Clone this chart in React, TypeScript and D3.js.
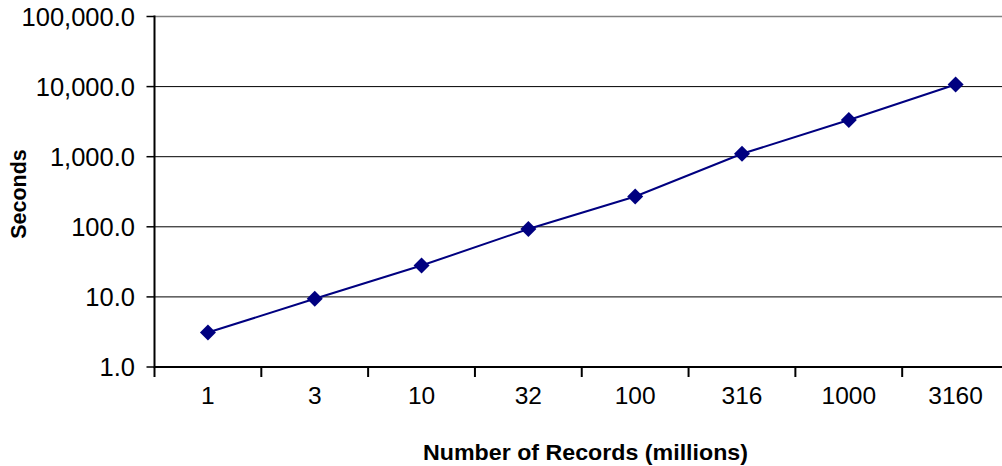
import React from "react";
import * as d3 from "d3";

const categories = ["1", "3", "10", "32", "100", "316", "1000", "3160"];
const seconds = [3.1, 9.4, 28, 93, 271, 1100, 3330, 10700];
const yTicks = [1, 10, 100, 1000, 10000, 100000];
const xTitle = "Number of Records (millions)";
const yTitle = "Seconds";

const W = 1002;
const H = 466;
const left = 154.5;
const right = 1009;
const top = 16.5;
const bottom = 367;

export default function App() {
  const x = d3.scaleBand<string>().domain(categories).range([left, right]).paddingInner(0).paddingOuter(0);
  const y = d3.scaleLog().domain([1, 100000]).range([bottom, top]);
  const fmt = d3.format(",.1f");
  const line = d3
    .line<number>()
    .x((_, i) => (x(categories[i]) as number) + x.bandwidth() / 2)
    .y((d) => y(d));
  const boundaries = categories.map((c) => x(c) as number).concat([right]);
  const font = "'Liberation Sans', Arial, sans-serif";
  const r = 8;
  return (
    <svg width={W} height={H} style={{ position: "absolute", left: 0, top: 0, background: "#fff" }} fontFamily={font}>
      <rect x={0} y={0} width={W} height={H} fill="#fff" />
      {yTicks.map((t, i) => (
        <g key={t}>
          <line
            x1={left}
            x2={right}
            y1={y(t)}
            y2={y(t)}
            stroke={i === yTicks.length - 1 ? "#808080" : "#000"}
            strokeWidth={i === yTicks.length - 1 ? 1.5 : 1}
          />
          <line x1={left - 8} x2={left} y1={y(t)} y2={y(t)} stroke="#000" strokeWidth={1.5} />
          <text x={135} y={y(t)} dy="0.36em" textAnchor="end" fontSize={25.5} fill="#000">
            {fmt(t)}
          </text>
        </g>
      ))}
      {boundaries.map((b, i) => (
        <line key={i} x1={b} x2={b} y1={bottom} y2={bottom + 10} stroke="#000" strokeWidth={2} />
      ))}
      <line x1={left} x2={left} y1={top - 1} y2={bottom + 1} stroke="#000" strokeWidth={2} />
      <line x1={left} x2={right} y1={bottom} y2={bottom} stroke="#000" strokeWidth={2} />
      {categories.map((c) => (
        <text key={c} x={(x(c) as number) + x.bandwidth() / 2} y={404} textAnchor="middle" fontSize={24.5} fill="#000">
          {c}
        </text>
      ))}
      <path d={line(seconds) || ""} fill="none" stroke="#000080" strokeWidth={2} />
      {seconds.map((v, i) => {
        const cx = (x(categories[i]) as number) + x.bandwidth() / 2;
        const cy = y(v);
        return (
          <path
            key={i}
            d={`M${cx},${cy - r}L${cx + r},${cy}L${cx},${cy + r}L${cx - r},${cy}Z`}
            fill="#000080"
          />
        );
      })}
      <text x={585.5} y={459.5} textAnchor="middle" fontSize={22.5} fontWeight="bold" fill="#000" textLength={325} lengthAdjust="spacingAndGlyphs">
        {xTitle}
      </text>
      <text
        transform={`translate(25.5,194) rotate(-90)`}
        textAnchor="middle"
        fontSize={21.5}
        fontWeight="bold"
        fill="#000"
      >
        {yTitle}
      </text>
    </svg>
  );
}
